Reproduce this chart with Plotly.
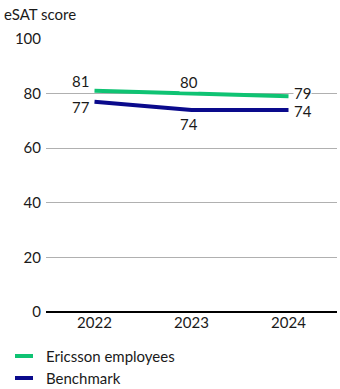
import plotly.graph_objects as go

years = ["2022", "2023", "2024"]
ericsson = [81, 80, 79]
benchmark = [77, 74, 74]
y_ticks = [0, 20, 40, 60, 80, 100]

GREEN = "#0fc373"
NAVY = "#0a0a8c"
FONT = "Lato"
TXT = "#1a1a1a"
FS = 15

# plot area in pixels (for placing the legend below it)
PL, PR, PT, PB = 46, 337, 39, 312

series = [("Ericsson employees", ericsson, GREEN), ("Benchmark", benchmark, NAVY)]

fig = go.Figure()
for name, vals, col in series:
    fig.add_trace(go.Scatter(x=years, y=vals, mode="lines", name=name,
                             line=dict(color=col, width=4), hoverinfo="skip",
                             showlegend=False))

# value labels: (xshift, yshift) per point
shifts = {
    "Ericsson employees": [(-14, 10), (-3, 12), (14, 3)],
    "Benchmark": [(-14, -5), (-3, -14), (14, -1)],
}
for name, vals, col in series:
    for i, (v, (dx, dy)) in enumerate(zip(vals, shifts[name])):
        fig.add_annotation(x=i, y=v, xref="x", yref="y", text=str(v), showarrow=False,
                           xshift=dx, yshift=dy, bgcolor="white", borderpad=0,
                           font=dict(family=FONT, size=FS, color=TXT))


def px_x(x):
    return (x - PL) / (PR - PL)


def px_y(y):
    return (PB - y) / (PB - PT)


# legend drawn below the axis: short line swatch + label
for k, (name, vals, col) in enumerate(series):
    yc = px_y(356 + 22 * k)
    fig.add_shape(type="line", xref="paper", yref="paper",
                  x0=px_x(15), x1=px_x(33), y0=yc, y1=yc,
                  line=dict(color=col, width=4))
    fig.add_annotation(xref="paper", yref="paper", x=px_x(44), y=yc,
                       xanchor="left", yanchor="middle", text=name, showarrow=False,
                       font=dict(family=FONT, size=FS, color=TXT))

fig.update_layout(
    width=340, height=389,
    margin=dict(l=PL, r=340 - PR, t=PT, b=389 - PB, autoexpand=False),
    plot_bgcolor="white", paper_bgcolor="white",
    font=dict(family=FONT, size=FS, color=TXT),
    title=dict(text="eSAT score", x=4 / 340, xanchor="left", y=1 - 15 / 389,
               yanchor="middle", font=dict(family=FONT, size=FS, color=TXT)),
    showlegend=False,
    xaxis=dict(type="category", range=[-0.5, 2.5], showgrid=False, zeroline=False,
               showline=False, ticks="", tickfont=dict(size=FS)),
    yaxis=dict(range=[0, 100], tickvals=y_ticks, showgrid=True, gridcolor="#b0b0b0",
               gridwidth=1, zeroline=True, zerolinecolor="#000", zerolinewidth=2,
               showline=False, ticks="", ticklabelstandoff=4, tickfont=dict(size=FS)),
)

fig.write_html("out.html")
